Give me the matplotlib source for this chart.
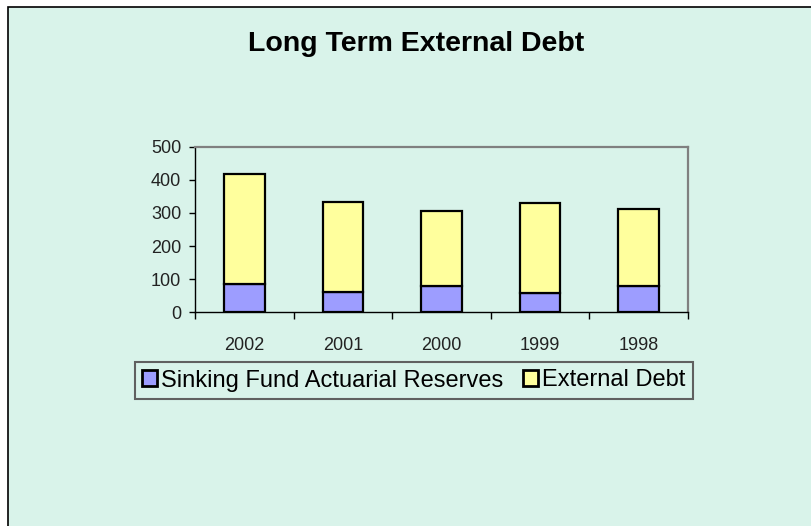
import numpy as np
import matplotlib.pyplot as plt
from matplotlib.patches import Rectangle

# data
years = ['2002', '2001', '2000', '1999', '1998']
sinking_fund = [85, 61, 78, 59, 78]
external_debt = [333, 271, 228, 271, 234]

plt.rcParams['font.family'] = ['Liberation Sans', 'DejaVu Sans']

fig = plt.figure(figsize=(8.12, 5.26), dpi=100, facecolor='white')
bg = '#D9F3EA'

# chart area with border (cut off at right and bottom)
fig.patches.append(Rectangle((8 / 812, -0.05), 1.0, 1 - 7 / 526 + 0.05,
                             transform=fig.transFigure, facecolor=bg,
                             edgecolor='black', linewidth=1.2, zorder=-10))

ax = fig.add_axes([195 / 812, 1 - 312.3 / 526, 493 / 812, 165.7 / 526])
ax.set_facecolor(bg)

x = np.arange(len(years))
w = 0.41
ax.bar(x, sinking_fund, w, color='#9D9DFF', edgecolor='black', linewidth=1.6,
       label='Sinking Fund Actuarial Reserves', zorder=3)
ax.bar(x, external_debt, w, bottom=sinking_fund, color='#FFFF9D',
       edgecolor='black', linewidth=1.6, label='External Debt', zorder=3)

ax.set_xlim(-0.5, len(years) - 0.5)
ax.set_ylim(0, 500)
ax.set_yticks(range(0, 501, 100))
ax.tick_params(axis='y', length=4, width=1, pad=6, labelsize=13,
               color='black', labelcolor='#222222')

# labels centred, ticks on category boundaries
ax.set_xticks(x)
ax.set_xticklabels(years)
ax.set_xticks(np.arange(-0.5, len(years)), minor=True)
ax.tick_params(axis='x', which='major', length=0, pad=18, labelsize=13,
               labelcolor='#222222')
ax.tick_params(axis='x', which='minor', length=5, width=1, color='black')

ax.spines['left'].set_color('black')
ax.spines['bottom'].set_color('black')
ax.spines['left'].set_linewidth(1)
ax.spines['bottom'].set_linewidth(1)
ax.spines['top'].set_color('#808080')
ax.spines['right'].set_color('#808080')
ax.spines['top'].set_linewidth(1.6)
ax.spines['right'].set_linewidth(1.6)

fig.text(416 / 812, 1 - 44 / 526, 'Long Term External Debt', ha='center',
         va='center', fontsize=20.5, fontweight='bold')

leg = fig.legend(loc='center', bbox_to_anchor=(414 / 812, 1 - 380.5 / 526),
                 ncol=2, fontsize=17, frameon=True, fancybox=False,
                 edgecolor='#606060', facecolor=bg, framealpha=1,
                 handlelength=0.64, handleheight=0.64, handletextpad=0.17,
                 columnspacing=0.83, borderpad=0.3, borderaxespad=0)
leg.get_frame().set_linewidth(1.5)
for h in leg.legend_handles:
    h.set_linewidth(2)

fig.savefig('out.png', dpi=100, facecolor=fig.get_facecolor())
